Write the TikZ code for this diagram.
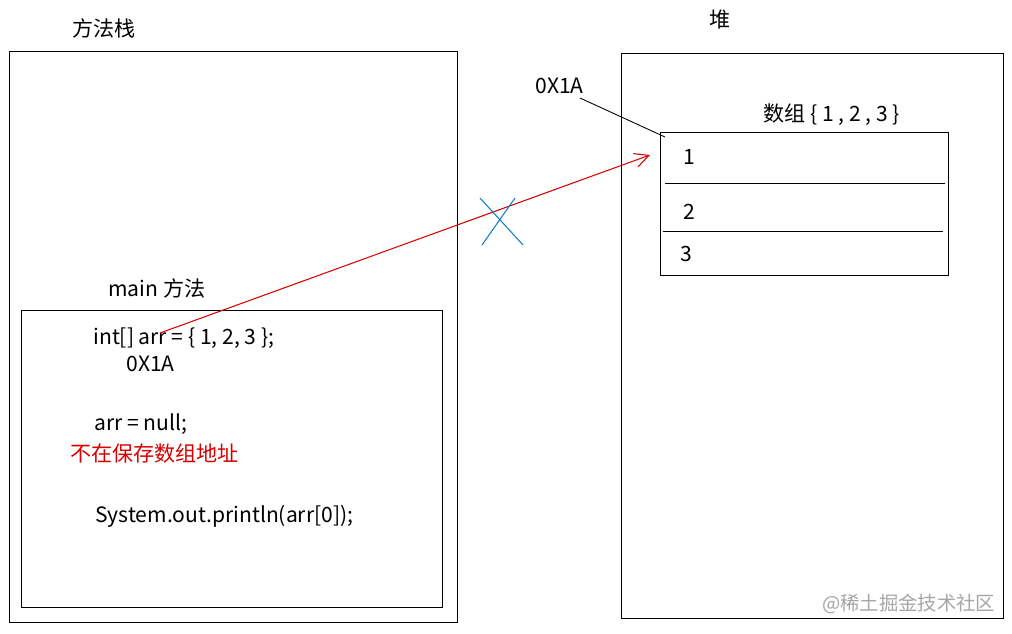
\documentclass[tikz,border=0pt]{standalone}
\usepackage{fontspec}
\setmainfont{Noto Sans CJK SC}
\usetikzlibrary{arrows.meta}
\begin{document}
\begin{tikzpicture}[x=0.02cm,y=-0.02cm,
  box/.style={draw=black,line width=0.6pt},
  txt/.style={font=\fontsize{12}{14}\selectfont,inner sep=0pt,anchor=west},
  thin/.style={draw=black,line width=0.5pt}]
\useasboundingbox (0,0) rectangle (1012,633);
\fill[white] (0,0) rectangle (1012,633);
\node[txt] (t1) at (72,28) {方法栈};
\node[box,minimum width=448*0.02cm,minimum height=571*0.02cm,anchor=north west] (stack) at (9,51) {};
\node[txt] (t2) at (108,288) {main 方法};
\node[box,minimum width=421*0.02cm,minimum height=297*0.02cm,anchor=north west] (main) at (21,310) {};
\node[txt] (c1) at (93,338) {int[] arr = \{ 1, 2, 3 \};};
\node[txt] (c2) at (126,364) {0X1A};
\node[txt] (c3) at (94,424) {arr = null;};
\node[txt,text=red!85!black] (c4) at (70,454) {不在保存数组地址};
\node[txt] (c5) at (95,516) {System.out.println(arr[0]);};
\node[txt] (t3) at (709,20) {堆};
\node[box,minimum width=382*0.02cm,minimum height=565*0.02cm,anchor=north west] (heap) at (621,53) {};
\node[txt] (h1) at (535,86) {0X1A};
\node[txt] (h2) at (763,115) {数组 \{ 1 , 2 , 3 \}};
\node[box,minimum width=288*0.02cm,minimum height=143*0.02cm,anchor=north west] (arr) at (660,132) {};
\coordinate (a1) at (665,183); \coordinate (a2) at (945,183);
\coordinate (b1) at (663,231); \coordinate (b2) at (943,231);
\draw[thin] (a1) -- (a2);
\draw[thin] (b1) -- (b2);
\node[txt] (n1) at (683,157) {1};
\node[txt] (n2) at (683,212) {2};
\node[txt] (n3) at (680,254) {3};
\coordinate (p1) at (580,98); \coordinate (p2) at (665,137);
\draw[thin] (p1) -- (p2);
\coordinate (r1) at (160,333); \coordinate (r2) at (650,155);
\draw[red!85!black,line width=0.6pt,-{Straight Barb[length=8pt,width=8pt]}] (r1) -- (r2);
\coordinate (x1) at (480,198); \coordinate (x2) at (523,245);
\coordinate (x3) at (482,245); \coordinate (x4) at (515,198);
\draw[cyan!60!blue,line width=0.6pt] (x1) -- (x2);
\draw[cyan!60!blue,line width=0.6pt] (x3) -- (x4);
\node[txt,text=gray!70,font=\fontsize{11}{13}\selectfont] (wm) at (822,604) {@稀土掘金技术社区};
\end{tikzpicture}
\end{document}
